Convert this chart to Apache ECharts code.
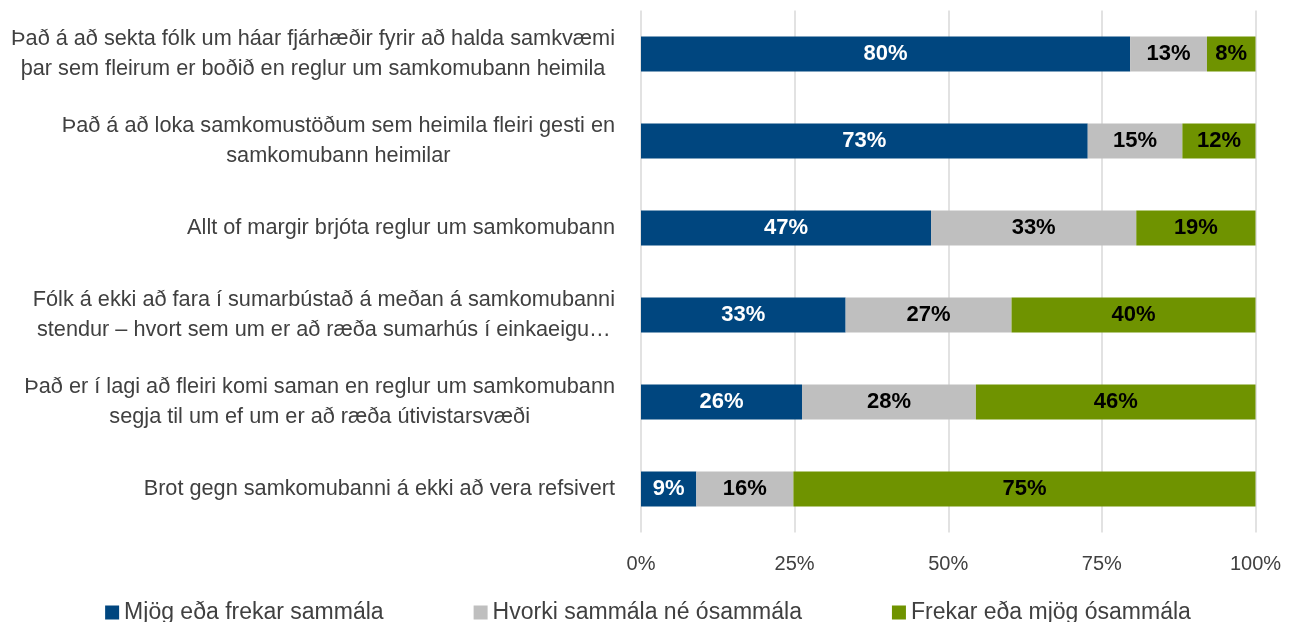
<!DOCTYPE html>
<html>
<head>
<meta charset="utf-8">
<script src="https://cdn.jsdelivr.net/npm/echarts@6/dist/echarts.min.js"></script>
<style>
  html, body { margin: 0; padding: 0; background: #fff; }
  #chart { width: 1296px; height: 622px; }
</style>
</head>
<body>
<div id="chart"></div>
<script>
// spurningar (flokkar), lína fyrir línu
var categories = [
  "Það á að sekta fólk um háar fjárhæðir fyrir að halda samkvæmi\nþar sem fleirum er boðið en reglur um samkomubann heimila",
  "Það á að loka samkomustöðum sem heimila fleiri gesti en\nsamkomubann heimilar",
  "Allt of margir brjóta reglur um samkomubann",
  "Fólk á ekki að fara í sumarbústað á meðan á samkomubanni\nstendur – hvort sem um er að ræða sumarhús í einkaeigu…",
  "Það er í lagi að fleiri komi saman en reglur um samkomubann\nsegja til um ef um er að ræða útivistarsvæði",
  "Brot gegn samkomubanni á ekki að vera refsivert"
];
var seriesNames = ["Mjög eða frekar sammála", "Hvorki sammála né ósammála", "Frekar eða mjög ósammála"];
var agree = [79.6, 72.7, 47.2, 33.3, 26.2, 9.0];
var neutral = [12.5, 15.4, 33.4, 27.0, 28.3, 15.8];
var disagree = [7.9, 11.9, 19.4, 39.7, 45.5, 75.2];
var xTicks = [0, 25, 50, 75, 100];

var colors = ["#00467f", "#bfbfbf", "#6f9300"];
var labelColors = ["#ffffff", "#000000", "#000000"];
var font = "'Liberation Sans', Arial, sans-serif";

var chart = echarts.init(document.getElementById("chart"));

function makeSeries(i, data) {
  return {
    name: seriesNames[i],
    type: "bar",
    stack: "total",
    barWidth: 35,
    data: data,
    itemStyle: { color: colors[i] },
    label: {
      show: true,
      position: "inside",
      color: labelColors[i],
      fontFamily: font,
      fontWeight: "bold",
      fontSize: 22,
      formatter: function (p) { return Math.round(p.value) + "%"; }
    }
  };
}

var option = {
  animation: false,
  grid: { left: 641, right: 40.5, top: 10.5, bottom: 89.5, containLabel: false },
  legend: {
    data: seriesNames,
    top: 596,
    left: "center",
    itemWidth: 14,
    itemHeight: 14,
    itemGap: 90,
    icon: "rect",
    textStyle: { fontFamily: font, fontSize: 23, color: "#404040" }
  },
  xAxis: {
    type: "value",
    min: xTicks[0],
    max: xTicks[xTicks.length - 1],
    interval: 25,
    axisLine: { show: false },
    axisTick: { show: false },
    splitLine: { show: true, lineStyle: { color: "#d9d9d9", width: 1.5 } },
    axisLabel: {
      margin: 22,
      fontFamily: font,
      fontSize: 20,
      color: "#404040",
      formatter: function (v) { return v + "%"; }
    }
  },
  yAxis: {
    type: "category",
    inverse: true,
    data: categories,
    axisLine: { show: false },
    axisTick: { show: false },
    axisLabel: {
      margin: 26,
      align: "right",
      formatter: function (v) {
        return v.split("\n").map(function (s) { return "{c|" + s + "}"; }).join("\n");
      },
      rich: {
        c: {
          align: "center",
          fontFamily: font,
          fontSize: 21.7,
          lineHeight: 30,
          color: "#404040"
        }
      }
    }
  },
  series: [
    makeSeries(0, agree),
    makeSeries(1, neutral),
    makeSeries(2, disagree)
  ]
};

chart.setOption(option);
</script>
</body>
</html>
